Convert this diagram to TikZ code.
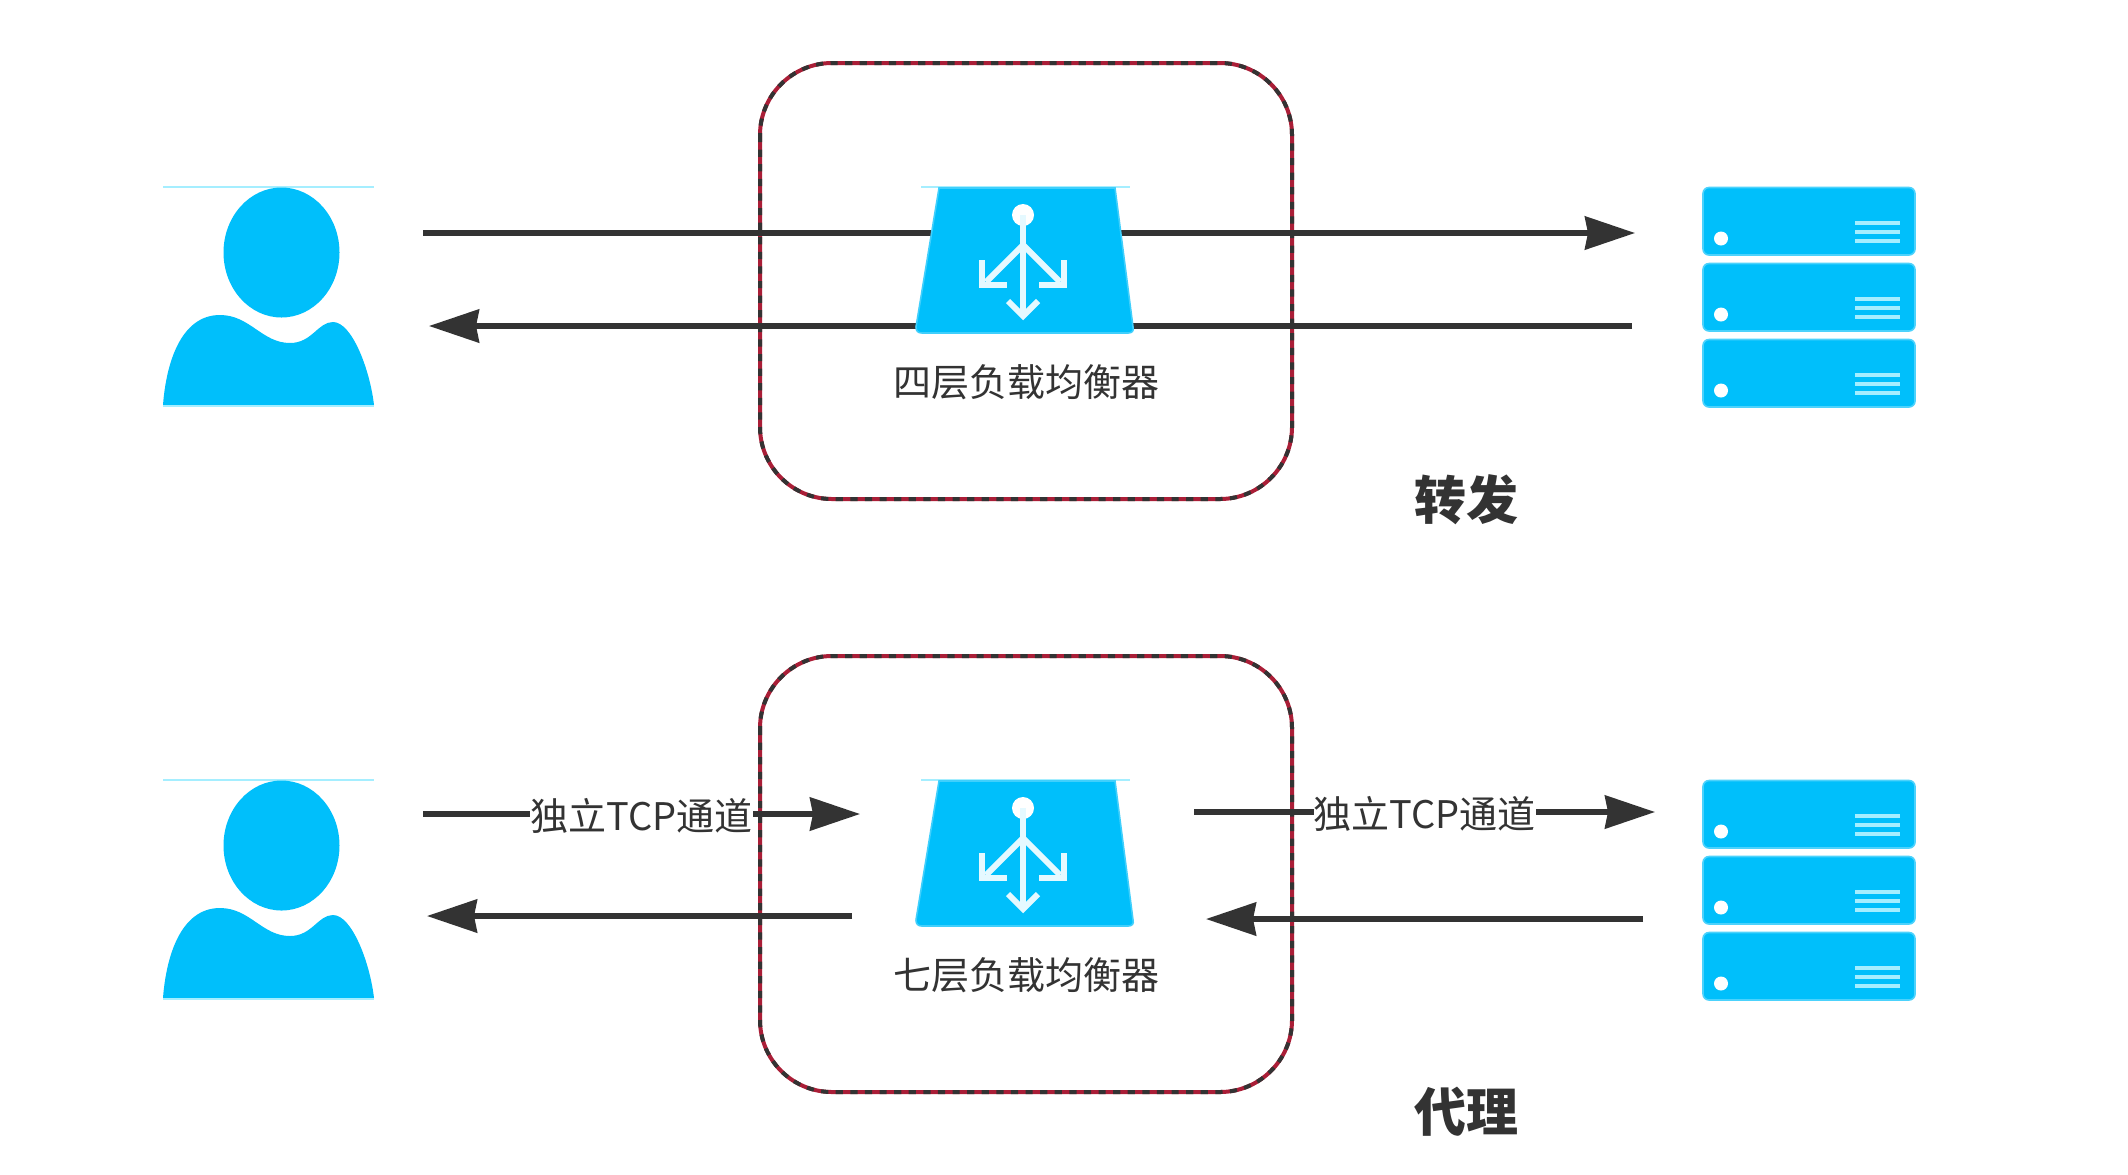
\documentclass[tikz,border=0pt]{standalone}
\usepackage{fontspec}
\setmainfont{Liberation Sans}
\newfontfamily\cjk{Noto Sans CJK SC}
\usetikzlibrary{arrows.meta}
\definecolor{iconblue}{RGB}{0,191,251}
\definecolor{iconpale}{RGB}{165,238,255}
\definecolor{ink}{RGB}{51,51,51}
\definecolor{framered}{RGB}{170,30,55}
\tikzset{
  x=0.5pt,y=-0.5pt,
  conn/.style={draw=ink,line width=2.6pt,-{Stealth[length=25pt,width=16.5pt,inset=1.5pt]}},
  lbl/.style={font=\cjk\fontsize{19}{19}\selectfont,text=ink,inner sep=1pt},
  edgelbl/.style={lbl,fill=white,inner xsep=0pt,inner ysep=1pt},
  ttl/.style={font=\cjk\bfseries\fontsize{26}{26}\selectfont,text=ink,inner sep=0pt},
  frameline/.style={rounded corners=36pt,line width=2pt},
  whiteln/.style={draw=white!90!iconblue,line width=3pt},
  person/.pic={
    \draw[iconpale,line width=1.4pt] (163,187) -- (374,187);
    \fill[iconblue] (281.5,252.5) ellipse[x radius=58,y radius=65];
    \fill[iconblue] (163,405) .. controls (166,365) and (180,315) .. (220,315)
      .. controls (250,315) and (262,343) .. (290,343)
      .. controls (312,343) and (318,322) .. (333,322)
      .. controls (352,322) and (370,370) .. (374,405) -- cycle;
    \draw[iconpale,line width=1pt] (163,405.5) -- (374,405.5);
  },
  balancer/.pic={
    \draw[iconpale,line width=1.4pt] (921,187) -- (1130,187);
    \fill[iconblue,draw=iconblue!75!white,line width=0.8pt]
      (939,188) -- (1115,188) -- (1133,327)
      .. controls (1134,331) and (1132,333) .. (1128,333) -- (922,333)
      .. controls (918,333) and (916,331) .. (916,327) -- cycle;
    \fill[white] (1023,215) circle[radius=11];
    \draw[whiteln] (1023,215) -- (1023,314);
    \draw[whiteln] (1023,245) -- (986,282);
    \draw[whiteln] (1023,245) -- (1060,282);
    \draw[whiteln] (982,260) -- (982,285) -- (1007,285);
    \draw[whiteln] (1064,260) -- (1064,285) -- (1039,285);
    \draw[whiteln] (1008,301) -- (1023,316) -- (1038,301);
  },
  rack/.pic={
    \fill[iconblue,draw=iconblue!70!white,line width=0.8pt,rounded corners=3pt] (1703,0.5) rectangle (1915,68);
    \fill[white] (1721,51.5) circle[radius=7];
    \foreach \yy in {36,45,54}
      \draw[iconpale,line width=2.2pt] (1855,\yy) -- (1900,\yy);
  },
}
\begin{document}
\begin{tikzpicture}
\useasboundingbox (0,0) rectangle (2128,1174);
\fill[white] (0,0) rectangle (2128,1174);

% frames
\foreach \dy in {0,593}{
  \draw[framered,frameline] (760,{63+\dy}) rectangle (1292,{499+\dy});
  \draw[ink,frameline,dash pattern=on 3.6pt off 3.7pt] (760,{63+\dy}) rectangle (1292,{499+\dy});
}

% anchors of the connectors
\coordinate (u1out) at (423,233);
\coordinate (s1in) at (1635,233);
\coordinate (s1out) at (1632,326);
\coordinate (u1in) at (429,326);
\coordinate (u2out) at (423,814);
\coordinate (b2in) at (860,814);
\coordinate (b2back) at (852,916);
\coordinate (u2in) at (427,916);
\coordinate (b2out) at (1194,812);
\coordinate (s2in) at (1655,812);
\coordinate (s2out) at (1643,919);
\coordinate (b2ret) at (1206,919);

% top row connectors pass behind the balancer
\draw[conn] (u1out) -- (s1in);
\draw[conn] (s1out) -- (u1in);

\pic (user1) at (0,0) {person};
\pic (user2) at (0,593) {person};
\pic (lb1) at (0,0) {balancer};
\pic (lb2) at (0,593) {balancer};
\foreach \n/\yy in {a/187,b/263,c/339,d/780,e/856,f/932}
  \pic (srv\n) at (0,\yy) {rack};

\draw[conn] (u2out) -- node[edgelbl,yshift=-1pt]{独立TCP通道} (b2in);
\draw[conn] (b2back) -- (u2in);
\draw[conn] (b2out) -- node[edgelbl,yshift=-1pt]{独立TCP通道} (s2in);
\draw[conn] (s2out) -- (b2ret);

\node[lbl] (name1) at (1026,382) {四层负载均衡器};
\node[lbl] (name2) at (1026,975) {七层负载均衡器};
\node[ttl] (kind1) at (1466,500) {转发};
\node[ttl] (kind2) at (1466,1112) {代理};
\end{tikzpicture}
\end{document}
